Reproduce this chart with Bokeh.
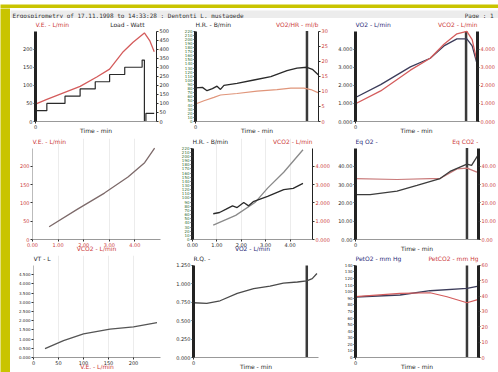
from bokeh.plotting import figure
from bokeh.models import Range1d, LinearAxis, FixedTicker, Label, PrintfTickFormatter
from bokeh.layouts import column, row
from bokeh.embed import file_html
from bokeh.resources import INLINE

# ---------------- data ----------------
header_text = "Ergospirometry of 17.11.1998 to 14:33:28 : Dentonti L. mustagede"
page_text = "Page : 1"
exercise_end = 14.5

ve_time = [0, 1.5, 3.7, 5.9, 8.1, 9.8, 11.6, 12.9, 14.4, 15.1, 15.7]
ve_values = [48, 61, 79, 97, 123, 145, 193, 219, 245, 224, 193]
load_time = [0, 1.5, 3.9, 5.9, 7.9, 9.8, 11.8, 14.1, 14.4, 14.6, 15.7]
load_values = [60, 100, 140, 180, 220, 260, 300, 340, 0, 45, 45]

hr_time = [0, 0.9, 1.5, 2.2, 2.8, 3.25, 3.7, 5.4, 7.6, 9.8, 11.9, 13.2, 14.5, 15.2, 16]
hr_values = [82, 83, 75, 80, 86, 78, 88, 93, 101, 109, 124, 130, 132, 127, 113]
o2pulse_time = [0, 1.1, 2.4, 3.25, 5.4, 8.0, 10.6, 12.4, 14.1, 15.0, 16]
o2pulse_values = [5.8, 6.9, 8.0, 8.8, 9.3, 10.1, 10.6, 11.1, 11.1, 10.6, 9.5]

gas_time = [0, 3.3, 7.2, 9.8, 11.6, 13.3, 14.6, 15.3, 16]
vo2_values = [1.33, 2.04, 3.02, 3.5, 4.18, 4.57, 4.57, 4.18, 3.1]
vco2_values = [0.98, 1.69, 2.84, 3.5, 4.27, 4.85, 4.98, 4.53, 3.2]

ve_vco2_x = [0.65, 1.76, 2.81, 3.73, 4.38, 4.77]
ve_vco2_y = [35, 83, 127, 171, 210, 250]

vslope_vo2 = [0.85, 1.77, 2.56, 3.08, 3.74, 4.53]
vslope_vco2 = [0.79, 1.32, 2.02, 2.81, 3.68, 4.91]
hr_vo2_x = [0.85, 1.11, 1.38, 1.64, 1.83, 2.10, 2.30, 2.49, 3.08, 3.74, 4.13, 4.53]
hr_vo2_y = [62, 65, 73, 81, 77, 89, 81, 91, 104, 120, 123, 135]

eq_time = [0, 1.9, 5.4, 8.0, 11.0, 12.3, 14.5, 15.1, 16]
eqo2_values = [24.5, 24.5, 26.5, 29.6, 33.3, 37.2, 41.2, 40.5, 46.5]
eqco2_time = [0, 5.4, 9.7, 11.0, 13.2, 14.5, 15.8]
eqco2_values = [33.3, 32.8, 33.3, 33.3, 38.6, 39.0, 36.8]

vt_ve_x = [23, 60, 100, 153, 200, 247]
vt_ve_y = [0.48, 0.92, 1.28, 1.54, 1.66, 1.89]

rq_time = [0, 1.7, 3.4, 5.6, 7.7, 9.8, 11.5, 13.3, 14.5, 15.2, 15.8]
rq_values = [0.743, 0.735, 0.77, 0.87, 0.935, 0.97, 1.01, 1.025, 1.04, 1.07, 1.14]

pet_time = [0, 5.8, 9.7, 14.5, 16]
peto2_values = [92, 95, 101.5, 105, 108.5]
petco2_time = [0, 5.8, 9.7, 11.9, 14.5, 16]
petco2_values = [39.6, 41.8, 42.2, 39.6, 35.7, 37.9]

time_ticks = [0]
ve_ticks = [0, 50, 100, 150, 200]
load_ticks = list(range(0, 501, 50))
hr_ticks = list(range(0, 221, 10))
o2pulse_ticks = [0, 5, 10, 15, 20, 25, 30]
gas_ticks = [0, 1, 2, 3, 4]
eq_ticks = [0, 10, 20, 30, 40]
vt_ticks = [0, 0.5, 1, 1.5, 2, 2.5, 3, 3.5, 4, 4.5]
ve_x_ticks = [0, 50, 100, 150, 200]
rq_ticks = [0, 0.25, 0.5, 0.75, 1.0, 1.25]
peto2_ticks = list(range(0, 141, 10))
petco2_ticks = [0, 10, 20, 30, 40, 50, 60]

# ---------------- style ----------------
YELLOW = "#c9c400"
RED = "#cc3b3b"
RED_LINE = "#d45c5c"
NAVY = "#2c2c78"
DARK = "#2a2a2a"
GREEN = "#2f6e2f"
FONT = "DejaVu Sans"
TICK_FS = "5px"
TITLE_FS = "6px"
TITLE_SPACE = 10  # px reserved inside the frame, above the data, for the panel titles


def yext(lo, hi, data_px):
    return Range1d(lo, hi + (hi - lo) * TITLE_SPACE / data_px)


def base(width, height, bl, br, bt, bb, xr, yr):
    data_px = height - bt - bb
    p = figure(width=width, height=height, x_range=Range1d(*xr), y_range=yext(yr[0], yr[1], data_px),
               output_backend="svg", toolbar_location=None,
               min_border_left=bl, min_border_right=br,
               min_border_top=bt - TITLE_SPACE, min_border_bottom=bb)
    p.outline_line_color = None
    p.background_fill_color = "white"
    p.border_fill_color = "white"
    p.grid.visible = False
    p.yaxis[0].bounds = yr
    return p, data_px


def style_axis(ax, ticks, fmt, color, line_width=1, line_color="#222", fs=TICK_FS):
    ax.ticker = FixedTicker(ticks=ticks)
    ax.formatter = PrintfTickFormatter(format=fmt)
    ax.axis_line_width = line_width
    ax.axis_line_color = line_color
    ax.major_tick_out = 2
    ax.major_tick_in = 0
    ax.major_tick_line_color = "#333"
    ax.minor_tick_line_color = None
    ax.major_label_text_font_size = fs
    ax.major_label_text_color = color
    ax.major_label_text_font = FONT
    ax.major_label_standoff = 1


def x_axis(p, ticks, fmt, label, label_color, tick_color):
    ax = p.xaxis[0]
    style_axis(ax, ticks, fmt, tick_color, line_width=1, line_color="#999")
    ax.axis_label = label
    ax.axis_label_text_font_size = TITLE_FS
    ax.axis_label_text_font_style = "normal"
    ax.axis_label_text_color = label_color
    ax.axis_label_text_font = FONT
    ax.axis_label_standoff = -5


def time_axis(p):
    x_axis(p, time_ticks, "%d", "Time - min", DARK, DARK)


def right_axis(p, lo, hi, data_px, ticks, fmt, color, line_width=1):
    p.extra_y_ranges = {"r": yext(lo, hi, data_px)}
    ax = LinearAxis(y_range_name="r", bounds=(lo, hi))
    style_axis(ax, ticks, fmt, color, line_width=line_width)
    p.add_layout(ax, "right")


def titles(p, top, left_text, left_color, right_text=None, right_color=None, right_shift=0):
    p.add_layout(Label(x=p.x_range.start, y=top, x_offset=0, y_offset=3,
                       text=left_text, text_color=left_color, text_font_size=TITLE_FS,
                       text_font=FONT, text_baseline="bottom", text_align="left"))
    if right_text:
        p.add_layout(Label(x=p.x_range.end, y=top, x_offset=right_shift, y_offset=3,
                           text=right_text, text_color=right_color, text_font_size=TITLE_FS,
                           text_font=FONT, text_baseline="bottom", text_align="right"))


def marker(p, lo, hi):
    p.segment(x0=[exercise_end], y0=[lo], x1=[exercise_end], y1=[hi],
              line_color="#3a3a3a", line_width=2.5)


def light_xgrid(p):
    p.xgrid.visible = True
    p.xgrid.grid_line_color = "#ececec"


def plain(width, height, fill):
    f = figure(width=width, height=height, x_range=Range1d(0, 1), y_range=Range1d(0, 1),
               output_backend="svg", toolbar_location=None,
               x_axis_location=None, y_axis_location=None,
               min_border_left=0, min_border_right=0, min_border_top=0, min_border_bottom=0)
    f.grid.visible = False
    f.outline_line_color = None
    f.background_fill_color = fill
    f.border_fill_color = fill
    return f


# ---------------- frame pieces ----------------
top_strip = plain(498, 8, YELLOW)
left_strip = plain(10, 364, YELLOW)

hdr = plain(488, 10, "#ececec")
hdr.add_layout(Label(x=0.004, y=0.5, text=header_text, text_font="DejaVu Sans Mono",
                     text_font_size="6px", text_color="#333", text_baseline="middle"))
hdr.add_layout(Label(x=0.99, y=0.5, text=page_text, text_font="DejaVu Sans Mono",
                     text_font_size="6px", text_color="#333", text_baseline="middle", text_align="right"))

# ---------------- row 1 ----------------
p1, h = base(162, 118, 25, 15, 13, 11, (0, 16), (0, 250))
style_axis(p1.yaxis[0], ve_ticks, "%d", DARK, line_width=3)
time_axis(p1)
right_axis(p1, 0, 500, h, load_ticks, "%d", DARK)
p1.step(load_time, load_values, mode="after", y_range_name="r", line_color=DARK, line_width=1.2)
p1.line(ve_time, ve_values, line_color=RED_LINE, line_width=1.3)
titles(p1, 250, "V.E. - L/min", RED, "Load - Watt", DARK, right_shift=-12)

p2, h = base(160, 118, 23, 14, 13, 11, (0, 16), (0, 220))
style_axis(p2.yaxis[0], hr_ticks, "%d", GREEN, line_width=3, fs="4px")
time_axis(p2)
right_axis(p2, 0, 30, h, o2pulse_ticks, "%d", RED)
marker(p2, 0, 220)
p2.line(o2pulse_time, o2pulse_values, y_range_name="r", line_color="#e0957a", line_width=1.2)
p2.line(hr_time, hr_values, line_color=DARK, line_width=1.3)
titles(p2, 220, "H.R. - B/min", DARK, "VO2/HR - ml/b", RED)

p3, h = base(166, 118, 23, 21, 13, 11, (0, 16), (0, 5))
style_axis(p3.yaxis[0], gas_ticks, "%.3f", DARK, line_width=3)
time_axis(p3)
right_axis(p3, 0, 5, h, gas_ticks, "%.3f", RED, line_width=3)
marker(p3, 0, 5)
p3.line(gas_time, vo2_values, line_color="#3c3c5a", line_width=1.3)
p3.line(gas_time, vco2_values, line_color=RED_LINE, line_width=1.3)
titles(p3, 5, "VO2 - L/min", NAVY, "VCO2 - L/min", RED)

# ---------------- row 2 ----------------
p4, h = base(162, 118, 22, 12, 12, 11, (0, 5), (0, 250))
style_axis(p4.yaxis[0], ve_ticks, "%d", RED, line_width=1, line_color="#bbb")
x_axis(p4, gas_ticks, "%.2f", "VCO2 - L/min", RED, RED)
light_xgrid(p4)
p4.line(ve_vco2_x, ve_vco2_y, line_color="#7d6a6a", line_width=1.3)
titles(p4, 250, "V.E. - L/min", RED)

p5, h = base(160, 118, 20, 15, 12, 11, (0, 4.92), (0, 220))
style_axis(p5.yaxis[0], hr_ticks, "%d", GREEN, line_width=3, fs="4px")
x_axis(p5, gas_ticks, "%.2f", "VO2 - L/min", NAVY, DARK)
right_axis(p5, 0, 5, h, gas_ticks, "%.3f", RED)
light_xgrid(p5)
p5.line(vslope_vo2, vslope_vco2, y_range_name="r", line_color="#8a8a8a", line_width=1.3)
p5.line(hr_vo2_x, hr_vo2_y, line_color=DARK, line_width=1.3)
titles(p5, 220, "H.R. - B/min", DARK, "VCO2 - L/min", RED)

p6, h = base(166, 118, 23, 20, 12, 10, (0, 16), (0, 50))
style_axis(p6.yaxis[0], eq_ticks, "%.2f", DARK, line_width=3)
time_axis(p6)
right_axis(p6, 0, 50, h, eq_ticks, "%.2f", RED, line_width=3)
marker(p6, 0, 50)
p6.line(eqco2_time, eqco2_values, line_color="#c97a7a", line_width=1.2)
p6.line(eq_time, eqo2_values, line_color="#3c3c3c", line_width=1.3)
titles(p6, 50, "Eq O2 -", NAVY, "Eq CO2 -", RED)

# ---------------- row 3 ----------------
p7, h = base(162, 118, 23, 12, 11, 14, (0, 254), (0, 5))
style_axis(p7.yaxis[0], vt_ticks, "%.3f", DARK, line_width=1, line_color="#bbb", fs="4px")
x_axis(p7, ve_x_ticks, "%d", "V.E. - L/min", RED, DARK)
light_xgrid(p7)
p7.line(vt_ve_x, vt_ve_y, line_color="#555", line_width=1.3)
titles(p7, 5, "VT - L", DARK)

p8, h = base(160, 118, 21, 14, 11, 14, (0, 16), (0, 1.25))
style_axis(p8.yaxis[0], rq_ticks, "%.3f", DARK, line_width=3)
time_axis(p8)
marker(p8, 0, 1.25)
p8.line(rq_time, rq_values, line_color="#4a4a4a", line_width=1.3)
titles(p8, 1.25, "R.Q. -", DARK)

p9, h = base(166, 118, 23, 20, 11, 14, (0, 16), (0, 140))
style_axis(p9.yaxis[0], peto2_ticks, "%d", DARK, line_width=3, fs="4px")
time_axis(p9)
right_axis(p9, 0, 60, h, petco2_ticks, "%d", RED, line_width=3)
marker(p9, 0, 140)
p9.line(pet_time, peto2_values, line_color="#3c3c5a", line_width=1.3)
p9.line(petco2_time, petco2_values, y_range_name="r", line_color=RED_LINE, line_width=1.2)
titles(p9, 140, "PetO2 - mm Hg", NAVY, "PetCO2 - mm Hg", RED)

page = column(hdr, row(p1, p2, p3), row(p4, p5, p6), row(p7, p8, p9))
layout = column(top_strip, row(left_strip, page))

open("out.html", "w").write(file_html(layout, INLINE))
